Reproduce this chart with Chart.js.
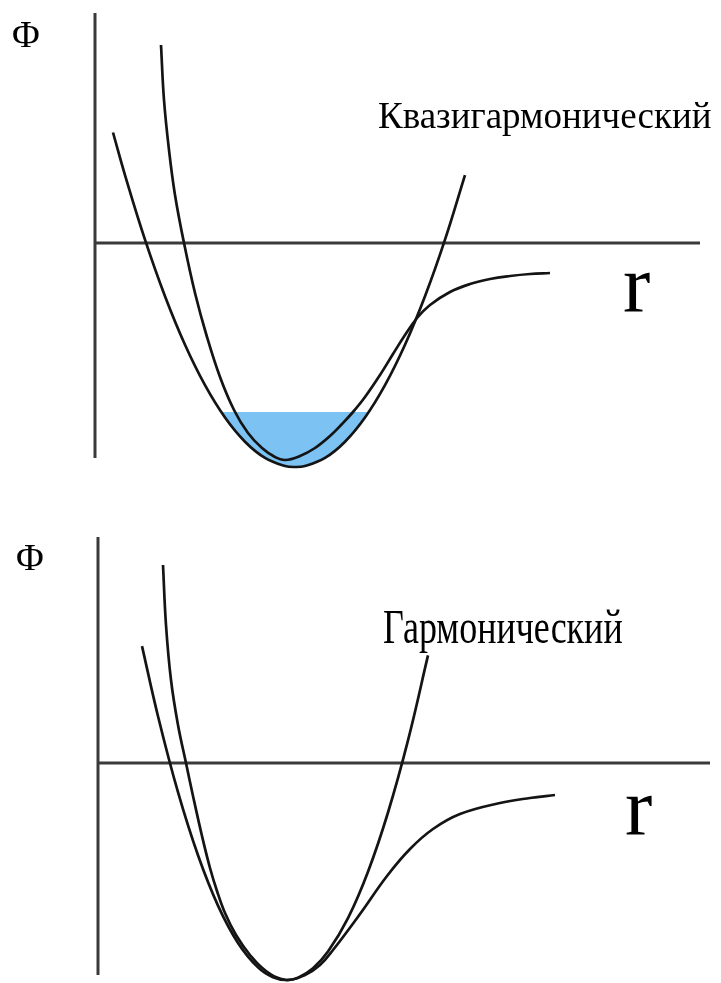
<!DOCTYPE html>
<html>
<head>
<meta charset="utf-8">
<script src="https://cdn.jsdelivr.net/npm/chart.js@4/dist/chart.umd.min.js"></script>
<style>
  html, body { margin: 0; padding: 0; background: #fff; }
  #page { position: relative; width: 721px; height: 983px; overflow: hidden; background: #fff; }
  canvas.panel { position: absolute; left: 0; }
  .lbl { position: absolute; font-family: "Liberation Serif", "Times New Roman", serif; color: #000;
         line-height: 1; white-space: nowrap; }
</style>
</head>
<body>
<div id="page">
  <canvas id="chartTop" class="panel" width="721" height="490" style="top:0"></canvas>
  <canvas id="chartBottom" class="panel" width="721" height="493" style="top:490px"></canvas>
  <div class="lbl" id="phiTop" style="left:12px; top:15px; font-size:38px"></div>
  <div class="lbl" id="titleTop" style="left:378px; top:97px; font-size:37px"></div>
  <div class="lbl" id="rTop" style="left:623px; top:244px; font-size:82px"></div>
  <div class="lbl" id="phiBottom" style="left:16px; top:538px; font-size:38px"></div>
  <div class="lbl" id="titleBottom" style="left:383px; top:613px; font-size:36px; transform: scaleY(1.35); transform-origin: 0 30px"></div>
  <div class="lbl" id="rBottom" style="left:625px; top:767px; font-size:82px"></div>
</div>
<script>
// ---- labels ----
const phiLabel = 'Φ';
const rLabel = 'r';
const topTitle = 'Квазигармонический';
const bottomTitle = 'Гармонический';

// ---- quasi-harmonic panel: interatomic potential Φ(r) ----
const topMorseR   = [0.66, 0.69, 0.74, 0.80, 0.89, 1.00, 1.12, 1.25, 1.39, 1.53, 1.67, 1.80, 1.90,
                     2.05, 2.20, 2.35, 2.47, 2.58, 2.70, 2.85, 2.98, 3.10, 3.22, 3.35, 3.55, 3.75, 3.95, 4.15, 4.35, 4.55];
const topMorsePhi = [1.98, 1.43, 0.93, 0.48, 0.00, -0.50, -0.94, -1.34, -1.67, -1.90, -2.05, -2.14, -2.17,
                     -2.13, -2.05, -1.93, -1.81, -1.69, -1.54, -1.32, -1.11, -0.92, -0.75, -0.62, -0.49, -0.41, -0.36, -0.33, -0.31, -0.30];
// shifted parabola (quasi-harmonic approximation)
const topParabR   = [0.18, 0.3, 0.5, 0.7, 0.9, 1.1, 1.3, 1.5, 1.7, 1.9, 2.0, 2.1, 2.3, 2.5, 2.7, 2.9, 3.1, 3.3, 3.5, 3.7];
const topParabPhi = [1.105, 0.679, 0.033, -0.533, -1.018, -1.422, -1.745, -1.987, -2.149, -2.230, -2.24,
                     -2.230, -2.149, -1.987, -1.745, -1.422, -1.018, -0.533, 0.033, 0.679];
// filled bottom of the well up to the thermal energy level
const topWellR    = [1.26, 1.4, 1.6, 1.8, 2.0, 2.2, 2.4, 2.6, 2.74];
const topWellPhi  = [-1.69, -1.876, -2.078, -2.2, -2.24, -2.2, -2.078, -1.876, -1.69];
const topWellLevel = -1.69;
const topAxisR    = [0, 6.05];
const topAxisPhi  = [2.30, -2.15];

// ---- harmonic panel ----
const botMorseR   = [0.65, 0.68, 0.73, 0.80, 0.88, 0.95, 1.04, 1.12, 1.19, 1.27, 1.38, 1.52, 1.68, 1.88,
                     2.07, 2.22, 2.35, 2.62, 2.89, 3.12, 3.35, 3.62, 4.02, 4.32, 4.57];
const botMorsePhi = [1.98, 1.38, 0.83, 0.38, 0.00, -0.33, -0.73, -1.05, -1.28, -1.50, -1.72, -1.92, -2.08, -2.17,
                     -2.12, -2.02, -1.87, -1.51, -1.13, -0.86, -0.66, -0.51, -0.40, -0.35, -0.32];
const botParabR   = [0.44, 0.6, 0.8, 1.0, 1.2, 1.4, 1.6, 1.75, 1.88, 2.0, 2.15, 2.3, 2.5, 2.7, 2.9, 3.1, 3.3];
const botParabPhi = [1.169, 0.468, -0.292, -0.923, -1.426, -1.799, -2.044, -2.143, -2.17, -2.147, -2.053,
                     -1.886, -1.551, -1.087, -0.495, 0.226, 1.076];
const botAxisR    = [0, 6.12];
const botAxisPhi  = [2.26, -2.12];

document.getElementById('phiTop').textContent = phiLabel;
document.getElementById('phiBottom').textContent = phiLabel;
document.getElementById('rTop').textContent = rLabel;
document.getElementById('rBottom').textContent = rLabel;
document.getElementById('titleTop').textContent = topTitle;
document.getElementById('titleBottom').textContent = bottomTitle;

const pts = (xs, ys) => xs.map((x, i) => ({ x, y: ys[i] }));

const curveStyle = {
  borderColor: '#141414', borderWidth: 2.7, pointRadius: 0, fill: false,
  cubicInterpolationMode: 'default', tension: 0.4, order: 1
};
const axisStyle = {
  borderColor: '#3a3a3a', borderWidth: 3, pointRadius: 0, fill: false, tension: 0, order: 2
};

function potentialChart(id, view, s) {
  const datasets = [
    Object.assign({ label: 'Φ(r)', data: pts(s.morseR, s.morsePhi) }, curveStyle),
    Object.assign({ label: 'parabola', data: pts(s.parabR, s.parabPhi) }, curveStyle),
    Object.assign({ label: 'r axis', data: pts(s.axisR, [0, 0]) }, axisStyle),
    Object.assign({ label: 'Φ axis', data: pts([0, 0], s.axisPhi) }, axisStyle)
  ];
  if (s.wellR) {
    datasets.push({
      label: 'well', data: pts(s.wellR, s.wellPhi),
      borderWidth: 0, pointRadius: 0, tension: 0.4,
      backgroundColor: '#7cc2f3', fill: { value: s.wellLevel }, order: 5
    });
  }
  return new Chart(document.getElementById(id), {
    type: 'line',
    data: { datasets },
    options: {
      responsive: false, animation: false, devicePixelRatio: 1, events: [],
      layout: { padding: 0 },
      plugins: { legend: { display: false }, tooltip: { enabled: false } },
      scales: {
        x: { type: 'linear', display: false, min: view.rMin, max: view.rMax },
        y: { type: 'linear', display: false, min: view.phiMin, max: view.phiMax }
      }
    }
  });
}

potentialChart('chartTop', { rMin: -0.95, rMax: 6.26, phiMin: -2.47, phiMax: 2.43 }, {
  morseR: topMorseR, morsePhi: topMorsePhi, parabR: topParabR, parabPhi: topParabPhi,
  wellR: topWellR, wellPhi: topWellPhi, wellLevel: topWellLevel,
  axisR: topAxisR, axisPhi: topAxisPhi
});
potentialChart('chartBottom', { rMin: -0.98, rMax: 6.23, phiMin: -2.20, phiMax: 2.73 }, {
  morseR: botMorseR, morsePhi: botMorsePhi, parabR: botParabR, parabPhi: botParabPhi,
  axisR: botAxisR, axisPhi: botAxisPhi
});
</script>
</body>
</html>
